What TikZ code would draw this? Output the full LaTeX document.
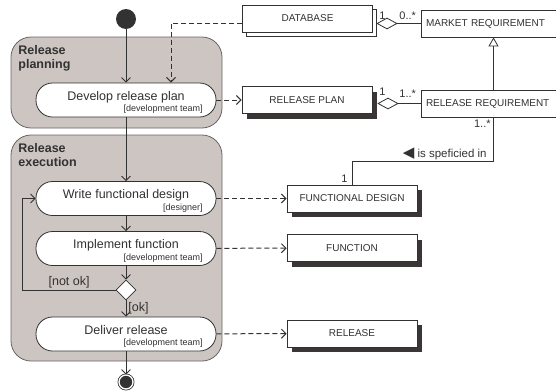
\documentclass[tikz,border=0pt]{standalone}
\usepackage{amssymb}
\usepackage{fontspec}
\setmainfont{Liberation Sans}
\newfontfamily\symbfont{DejaVu Sans}
\usetikzlibrary{shapes,arrows.meta,shadows}

\definecolor{inkcol}{RGB}{50,50,50}
\definecolor{lanefill}{RGB}{204,197,193}
\definecolor{laneline}{RGB}{105,100,100}
\definecolor{shadowcol}{RGB}{58,54,54}

\begin{document}
\begin{tikzpicture}[
      x = 1pt, y = -1pt,
      > = {Straight Barb[length=4.5pt,width=9pt]},
      line width = 0.8pt,
      color = inkcol,
      font = \fontsize{12.5}{14}\selectfont]

      \tikzstyle{swimlane}=[
      draw = laneline,
      fill = lanefill,
      rounded corners = 20pt]

      \tikzstyle{lanetitle}=[
      anchor = north west,
      inner sep = 0pt,
      align = left,
      font = \fontsize{12.5}{14}\selectfont\bfseries]

      \tikzstyle{activity}=[
      rectangle,
      draw = inkcol,
      fill = white,
      rounded corners = 16.5pt,
      minimum width = 180pt,
      minimum height = 34pt,
      text height = 9pt,
      text depth = 9pt]

      \tikzstyle{role}=[
      anchor = base east,
      inner sep = 0pt,
      font = \fontsize{9}{10}\selectfont]

      \tikzstyle{object}=[
      rectangle,
      draw = inkcol,
      fill = white,
      minimum width = 130pt,
      minimum height = 27pt,
      font = \fontsize{10}{12}\selectfont]

      \tikzstyle{heavy}=[
      drop shadow = {shadow xshift=5pt, shadow yshift=-5pt,
        fill=shadowcol, opacity=1}]

      \tikzstyle{stacked}=[
      copy shadow = {shadow xshift=4pt, shadow yshift=-4pt}]

      \tikzstyle{classbox}=[
      object,
      minimum width = 145pt,
      text width = 135pt,
      align = left]

      \tikzstyle{aggregate}=[
      diamond,
      draw = inkcol,
      fill = white,
      inner sep = 0pt,
      minimum width = 20pt,
      minimum height = 11pt]

      \tikzstyle{mult}=[
      anchor = base west,
      inner sep = 0pt,
      font = \fontsize{11}{12}\selectfont]

      \tikzstyle{flow}=[
      ->,
      line width = 1pt,
      dash pattern = on 5pt off 3pt]

      \useasboundingbox (0,0) rectangle (556,391);

      % swimlanes
      \node[swimlane, minimum width = 211pt, minimum height = 91pt] (planlane) at (116.5,82.5) {};
      \node[swimlane, minimum width = 211pt, minimum height = 226pt] (execlane) at (116.5,248) {};
      \node[lanetitle] (plantitle) at (18,45) {Release\\planning};
      \node[lanetitle] (exectitle) at (18,143) {Release\\execution};

      % activities
      \node[circle, fill = inkcol, minimum size = 20pt, inner sep = 0pt] (start) at (126,19) {};
      \node[activity] (plan) at (126,100) {Develop release plan};
      \node[role] (planrole) at (203,111.5) {[development team]};
      \node[activity] (design) at (126,198.5) {Write functional design};
      \node[role] (designrole) at (203,210) {[designer]};
      \node[activity] (impl) at (126,248.5) {Implement function};
      \node[role] (implrole) at (203,260) {[development team]};
      \node[diamond, draw = inkcol, fill = white, inner sep = 0pt,
        minimum width = 20pt, minimum height = 20pt] (check) at (126,290) {};
      \node[activity] (deliver) at (126,334) {Deliver release};
      \node[role] (deliverrole) at (203,345.5) {[development team]};
      \node[circle, draw = inkcol, fill = inkcol, double = white,
        double distance = 1.3pt, minimum size = 14pt, inner sep = 0pt] (stop) at (126,382) {};

      \draw[->] (start) -- (plan);
      \draw[->] (plan) -- (design);
      \draw[->] (design) -- (impl);
      \draw[->] (impl) -- (check);
      \draw[->] (check) -- node[right, inner sep = 2pt] (ok) {[ok]} (deliver);
      \draw[->] (deliver) -- (stop);
      \draw[->] (check.west) -- node[above, inner sep = 2pt] (notok) {[not ok]} ++(-93,0)
        |- (design.west);

      % objects
      \node[object, stacked] (db) at (307.5,18.5) {DATABASE};
      \node[object, heavy] (plandoc) at (307,100) {RELEASE PLAN};
      \node[object, heavy] (fdesign) at (352,198.5) {FUNCTIONAL DESIGN};
      \node[object, heavy] (func) at (352,248) {FUNCTION};
      \node[object, heavy] (rel) at (352,333.5) {RELEASE};

      \draw[flow] ([yshift=-4.5pt]db.west) -| ([xshift=45pt]plan.north);
      \draw[flow] (plan) -- (plandoc);
      \draw[flow] (design) -- (fdesign);
      \draw[flow] (impl) -- (func);
      \draw[flow] (deliver) -- (rel);

      % class part
      \node[classbox] (marketreq) at (493.5,23.5) {MARKET REQUIREMENT};
      \node[classbox] (releasereq) at (493.5,103.5) {RELEASE REQUIREMENT};
      \node[aggregate] (dbagg) at (387,23.5) {};
      \node[aggregate] (planagg) at (388,103.5) {};

      \draw (dbagg.east) -- (marketreq.west |- dbagg.east);
      \draw (planagg.east) -- (releasereq.west |- planagg.east);
      \draw[-{Triangle[open, length=9pt, width=10pt]}] (releasereq.north) -- (marketreq.south);
      \draw (releasereq.south) -- (releasereq.south |- 0,161) -| (fdesign.north);

      \node[mult] (dbone) at (379,19) {1};
      \node[mult] (dbmany) at (399,19) {0..*};
      \node[mult] (planone) at (379,95.5) {1};
      \node[mult] (planmany) at (399,97) {1..*};
      \node[mult, anchor = base east] (reqmany) at (491,127) {1..*};
      \node[mult, anchor = base east] (fdone) at (348,182) {1};
      \node[mult, anchor = base east, font = \fontsize{11.5}{13}\selectfont] (specified) at (487,157)
        {{\symbfont\fontsize{15}{15}\selectfont ◀} is speficied in};
\end{tikzpicture}
\end{document}
